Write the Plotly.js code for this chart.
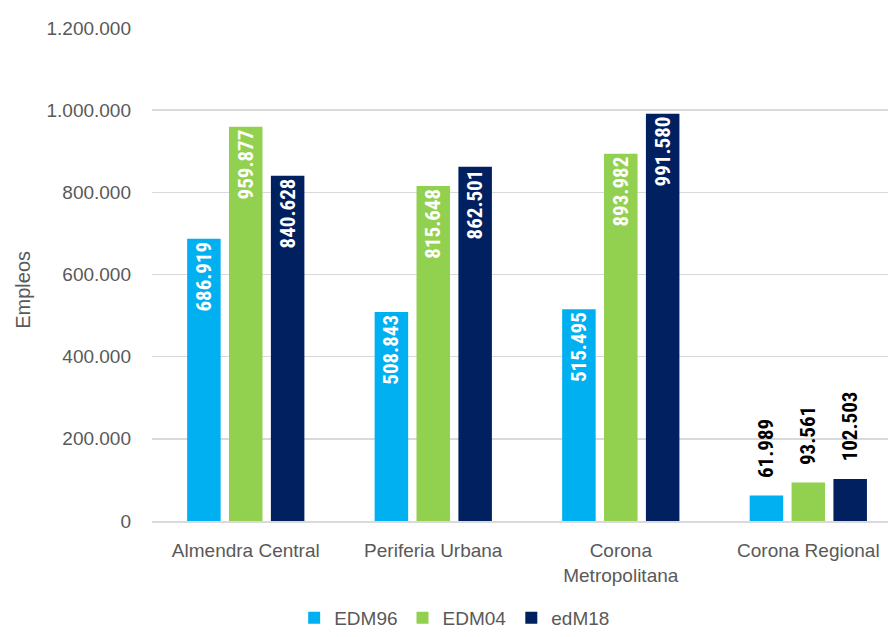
<!DOCTYPE html>
<html>
<head>
<meta charset="utf-8">
<script src="https://cdn.plot.ly/plotly-3.0.1.min.js"></script>
<style>html,body{margin:0;padding:0;background:#fff;}#chart{width:888px;height:637px;}</style>
</head>
<body>
<div id="chart"></div>
<script>
const categories = ["Almendra Central", "Periferia Urbana", "Corona<br>Metropolitana", "Corona Regional"];
const seriesNames = ["EDM96", "EDM04", "edM18"];
const edm96 = [686919, 508843, 515495, 61989];
const edm04 = [959877, 815648, 893982, 93561];
const edm18 = [840628, 862501, 991580, 102503];
const yTickValues = [0, 200000, 400000, 600000, 800000, 1000000, 1200000];
const colors = ["#00B0F0", "#92D050", "#002060"];

function fmt(v) {
  return String(v).replace(/\B(?=(\d{3})+(?!\d))/g, ".");
}
const xIdx = categories.map((c, i) => i);
const labelFont = "Liberation Sans Narrow, Roboto Condensed, DejaVu Sans Condensed, Arial Narrow, sans-serif";

const traces = [edm96, edm04, edm18].map((vals, k) => ({
  type: "bar",
  name: seriesNames[k],
  x: xIdx,
  y: vals,
  marker: {color: colors[k]},
  text: vals.map((v, i) => i < 3 ? fmt(v) : "\u00a0\u00a0\u00a0" + fmt(v)),
  textposition: vals.map((v, i) => i < 3 ? "inside" : "outside"),
  insidetextanchor: "end",
  textangle: -90,
  constraintext: "none",
  cliponaxis: false,
  insidetextfont: {color: "#ffffff", size: 21, family: labelFont, weight: "bold"},
  outsidetextfont: {color: "#000000", size: 21, family: labelFont, weight: "bold"},
  hoverinfo: "skip"
}));

const layout = {
  width: 888,
  height: 637,
  margin: {l: 152, r: 0, t: 28, b: 116},
  paper_bgcolor: "#ffffff",
  plot_bgcolor: "#ffffff",
  separators: ",.",
  font: {family: "Liberation Sans, Arial, sans-serif", color: "#595959", size: 19},
  barmode: "group",
  bargap: 0.33,
  bargroupgap: 0.2,
  showlegend: true,
  legend: {
    orientation: "h",
    xref: "container", yref: "container",
    x: 0.512, xanchor: "center",
    y: -0.009, yanchor: "bottom",
    tracegroupgap: 0,
    itemwidth: 30,
    font: {size: 19, color: "#595959"},
    itemclick: false
  },
  xaxis: {
    type: "linear",
    range: [-0.5, 3.425],
    tickvals: xIdx,
    ticktext: categories,
    showgrid: false,
    zeroline: false,
    showline: true,
    linecolor: "#d9d9d9",
    linewidth: 1.5,
    ticks: "",
    ticklabelstandoff: 12,
    tickfont: {size: 19, color: "#595959"},
    automargin: false
  },
  yaxis: {
    range: [0, 1200000],
    tickvals: yTickValues,
    ticktext: yTickValues.map(fmt),
    showgrid: true,
    gridcolor: "#d9d9d9",
    gridwidth: 1.5,
    zeroline: false,
    showline: false,
    ticks: "",
    ticklabelstandoff: 20,
    tickfont: {size: 19, color: "#595959"},
    automargin: false
  },
  annotations: [{
    text: "Empleos",
    xref: "paper", yref: "paper",
    x: -0.1755, y: 0.4686,
    xanchor: "center", yanchor: "middle",
    textangle: -90,
    showarrow: false,
    font: {size: 20, color: "#595959"}
  }]
};

Plotly.newPlot("chart", traces, layout, {displayModeBar: false, staticPlot: true});
</script>
</body>
</html>
